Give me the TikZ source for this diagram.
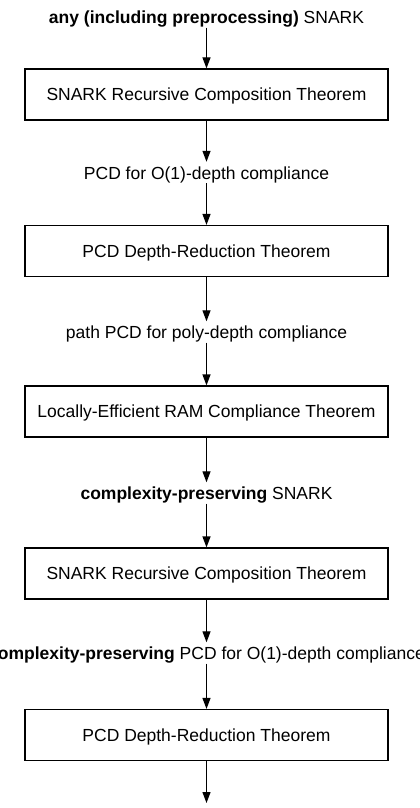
\documentclass[tikz,border=0pt]{standalone}
\usepackage{fontspec}
\setmainfont{Liberation Sans}
\usetikzlibrary{arrows.meta, positioning}

\begin{document}
\begin{tikzpicture}[x=1pt, y=1pt,
    every node/.style={font=\fontsize{17.5}{21}\selectfont},
    thm/.style={draw, line width=1.2pt, minimum width=363pt,
                minimum height=51pt, inner sep=0pt,
                text height=12.6pt, text depth=0pt},
    obj/.style={inner xsep=0pt, inner ysep=4pt,
                text height=13pt, text depth=0pt},
    imp/.style={line width=1.2pt, -{Triangle[length=11pt, width=8pt]}}]
  \useasboundingbox (0,0) rectangle (420,-808);

  % Objects and theorems
  \node[obj] (snark) at (206.5,-17)
    {\textbf{any (including preprocessing)} SNARK};
  \node[thm] (compA) at (206.5,-94.5) {SNARK Recursive Composition Theorem};
  \node[obj] (pcdA) at (206.5,-172.5) {PCD for O(1)-depth compliance};
  \node[thm] (depthA) at (206.5,-251) {PCD Depth-Reduction Theorem};
  \node[obj] (pathpcd) at (206.5,-332) {path PCD for poly-depth compliance};
  \node[thm] (ram) at (206.5,-411.5) {Locally-Efficient RAM Compliance Theorem};
  \node[obj] (cpsnark) at (206.5,-493)
    {\textbf{complexity-preserving} SNARK};
  \node[thm] (compB) at (206.5,-573.5) {SNARK Recursive Composition Theorem};
  \node[obj] (pcdB) at (206.5,-653)
    {\textbf{complexity-preserving} PCD for O(1)-depth compliance};
  \node[thm] (depthB) at (206.5,-735) {PCD Depth-Reduction Theorem};
  \coordinate (out) at (206.5,-803);

  % Implications
  \draw[imp] (snark) -- (compA);
  \draw[imp] (compA) -- (pcdA);
  \draw[imp] (pcdA) -- (depthA);
  \draw[imp] (depthA) -- (pathpcd);
  \draw[imp] (pathpcd) -- (ram);
  \draw[imp] (ram) -- (cpsnark);
  \draw[imp] (cpsnark) -- (compB);
  \draw[imp] (compB) -- (pcdB);
  \draw[imp] (pcdB) -- (depthB);
  \draw[imp] (depthB) -- (out);
\end{tikzpicture}
\end{document}
